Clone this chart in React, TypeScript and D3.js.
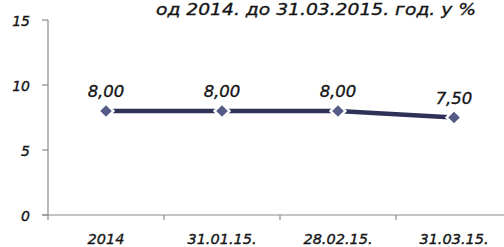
import { useEffect, useRef } from 'react';
import * as d3 from 'd3';

const categories = ['2014', '31.01.15.', '28.02.15.', '31.03.15.'];
const values = [8.0, 8.0, 8.0, 7.5];
const yTicks = [0, 5, 10, 15];
const title = 'од 2014. до 31.03.2015. год. у %';

const App = () => {
  const svgRef = useRef(null);

  useEffect(() => {
    drawChart();
  }, []);

  const drawChart = () => {
    const width = 504;
    const height = 247;
    const font = '"DejaVu Sans", sans-serif';
    const ink = '#141414';
    const svg = d3.select(svgRef.current);
    svg.selectAll('*').remove();

    const x = d3.scaleBand().domain(categories).range([48, 512]);
    const y = d3.scaleLinear().domain([0, 15]).range([215, 20]);

    svg.append('rect').attr('width', width).attr('height', height).attr('fill', '#fff');

    // text style shared by every label
    const style = (sel, size) => sel
      .attr('font-family', font)
      .attr('font-style', 'italic')
      .attr('font-size', size)
      .attr('fill', ink)
      .attr('stroke', ink)
      .attr('stroke-width', 0.35);

    svg.append('text')
      .attr('x', 156)
      .attr('y', 15)
      .attr('textLength', 320)
      .attr('lengthAdjust', 'spacingAndGlyphs')
      .call(style, 16.5)
      .text(title);

    // y axis
    svg.append('line')
      .attr('x1', 48).attr('x2', 48)
      .attr('y1', y(15)).attr('y2', y(0))
      .attr('stroke', '#8a8a8a').attr('stroke-width', 1.2);
    svg.selectAll('.ytick')
      .data(yTicks)
      .join('line')
        .attr('x1', 42).attr('x2', 48)
        .attr('y1', d => y(d)).attr('y2', d => y(d))
        .attr('stroke', '#8a8a8a').attr('stroke-width', 1.2);
    svg.selectAll('.ylab')
      .data(yTicks)
      .join('text')
        .attr('x', 30)
        .attr('y', d => y(d) + 5.5)
        .attr('text-anchor', 'end')
        .call(style, 14)
        .text(d => d);

    // x axis
    svg.append('line')
      .attr('x1', 42).attr('x2', width)
      .attr('y1', y(0)).attr('y2', y(0))
      .attr('stroke', '#8a8a8a').attr('stroke-width', 1.2);
    svg.selectAll('.xtick')
      .data(categories)
      .join('line')
        .attr('x1', d => x(d)).attr('x2', d => x(d))
        .attr('y1', y(0)).attr('y2', y(0) + 5)
        .attr('stroke', '#8a8a8a').attr('stroke-width', 1.2);
    svg.selectAll('.xlab')
      .data(categories)
      .join('text')
        .attr('x', d => x(d) + x.bandwidth() / 2)
        .attr('y', 244)
        .attr('text-anchor', 'middle')
        .call(style, 14.5)
        .text(d => d);

    const cx = (i) => x(categories[i]) + x.bandwidth() / 2;
    const line = d3.line()
      .x((d, i) => cx(i))
      .y(d => y(d));

    svg.append('path')
      .attr('d', line(values))
      .attr('fill', 'none')
      .attr('stroke', '#2e3158')
      .attr('stroke-width', 4.5);

    const symbol = d3.symbol().type(d3.symbolDiamond2).size(80);
    svg.selectAll('.pt')
      .data(values)
      .join('path')
        .attr('d', symbol)
        .attr('transform', (d, i) => `translate(${cx(i)},${y(d)})`)
        .attr('fill', '#555a86')
        .attr('stroke', '#fff')
        .attr('stroke-width', 5)
        .attr('paint-order', 'stroke');

    svg.selectAll('.pt2')
      .data(values)
      .join('path')
        .attr('d', symbol)
        .attr('transform', (d, i) => `translate(${cx(i)},${y(d)})`)
        .attr('fill', '#555a86');

    svg.selectAll('.lab')
      .data(values)
      .join('text')
        .attr('x', (d, i) => cx(i))
        .attr('y', d => y(d) - 14)
        .attr('text-anchor', 'middle')
        .call(style, 16.5)
        .text(d => d.toFixed(2).replace('.', ','));
  };

  return (
    <svg
      ref={svgRef}
      width={504}
      height={247}
      style={{ position: 'absolute', left: 0, top: 0, display: 'block' }}
    />
  );
};

export default App;
